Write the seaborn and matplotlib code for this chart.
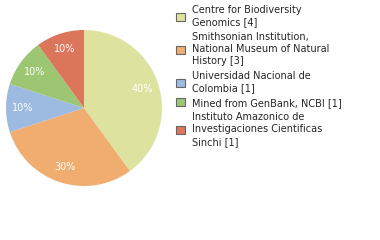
import matplotlib
matplotlib.use("Agg")
import matplotlib.pyplot as plt
import seaborn as sns
from matplotlib.patches import Patch

labels = ["Centre for Biodiversity\nGenomics [4]",
          "Smithsonian Institution,\nNational Museum of Natural\nHistory [3]",
          "Universidad Nacional de\nColombia [1]",
          "Mined from GenBank, NCBI [1]",
          "Instituto Amazonico de\nInvestigaciones Cientificas\nSinchi [1]"]
counts = [4, 3, 1, 1, 1]
colors = ["#dde39e", "#f0ad6f", "#9dbbe0", "#9dc673", "#dc765a"]

sns.set_theme(style="white")
plt.rcParams['font.family'] = ['DejaVu Sans']

fig = plt.figure(figsize=(3.8, 2.4), dpi=100)
W, H = 380, 240
cx, cy, r = 84, 108, 78
ax = fig.add_axes([(cx - r) / W, 1 - (cy + r) / H, 2 * r / W, 2 * r / H])
wedges, texts, autotexts = ax.pie(
    counts, colors=colors, startangle=90, counterclock=False,
    autopct=lambda p: f"{p:.0f}%", pctdistance=0.79,
    wedgeprops=dict(linewidth=0),
    textprops=dict(color="white", fontsize=7))
ax.set_aspect("equal")
ax.set_xlim(-1, 1); ax.set_ylim(-1, 1)

handles = [Patch(facecolor=c, edgecolor="#666666", linewidth=0.8) for c in colors]
leg = fig.legend(handles, labels, loc="upper left",
                 bbox_to_anchor=(172 / W, 1 - 1 / H), frameon=False,
                 fontsize=7, handlelength=0.9, handleheight=0.9,
                 handletextpad=0.8, labelspacing=0.45, borderaxespad=0)
for t in leg.get_texts():
    t.set_linespacing(1.3)
fig.savefig("out.png", dpi=100)
